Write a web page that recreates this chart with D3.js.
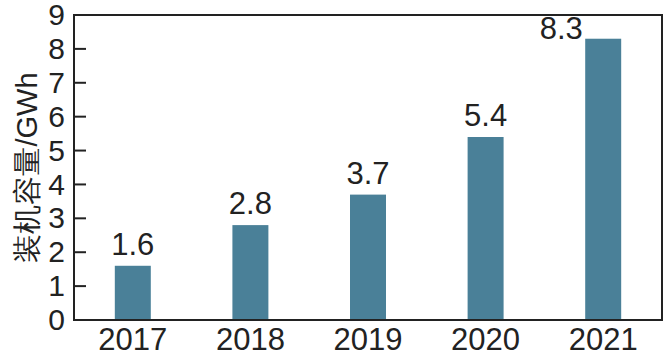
<!DOCTYPE html>
<html lang="zh">
<head>
  <meta charset="utf-8">
  <title>装机容量</title>
  <script src="https://cdn.jsdelivr.net/npm/d3@7"></script>
  <style>
    body { margin: 0; background: #fff; }
    text { font-family: "Liberation Sans", Arial, sans-serif; fill: #222; }
  </style>
</head>
<body>
<script>
  // data
  var years = ["2017", "2018", "2019", "2020", "2021"];
  var capacity = [1.6, 2.8, 3.7, 5.4, 8.3];
  var yTicks = [0, 1, 2, 3, 4, 5, 6, 7, 8, 9];

  var w = 664, h = 364;
  var plotL = 74, plotR = 662, plotT = 15, plotB = 320;

  var svg = d3.select("body").append("svg")
    .attr("width", w)
    .attr("height", h);

  var xScale = d3.scaleBand()
    .domain(years)
    .range([plotL, plotR])
    .paddingInner(0.694)
    .paddingOuter(0.347);

  var yScale = d3.scaleLinear()
    .domain([0, 9])
    .range([plotB, plotT]);

  // bars
  svg.append("g")
    .selectAll("rect")
    .data(capacity)
    .enter()
    .append("rect")
    .attr("x", function (d, i) { return xScale(years[i]); })
    .attr("y", function (d) { return yScale(d); })
    .attr("width", xScale.bandwidth())
    .attr("height", function (d) { return plotB - yScale(d); })
    .attr("fill", "#4a8098");

  // value labels (last one pushed left, it would hit the frame)
  svg.append("g")
    .selectAll("text")
    .data(capacity)
    .enter()
    .append("text")
    .attr("text-anchor", "middle")
    .attr("x", function (d, i) {
      return xScale(years[i]) + xScale.bandwidth() / 2 + (i == capacity.length - 1 ? -42 : 0);
    })
    .attr("y", function (d, i) {
      return i == capacity.length - 1 ? yScale(d) : yScale(d) - 11;
    })
    .attr("font-size", "31px")
    .text(function (d) { return d.toFixed(1); });

  // y axis (ticks inside)
  var yAxis = d3.axisLeft(yScale)
    .tickValues(yTicks)
    .tickSize(0)
    .tickPadding(9);

  var gy = svg.append("g")
    .attr("transform", "translate(" + plotL + ",0)")
    .call(yAxis);
  gy.select(".domain").remove();
  gy.selectAll("text")
    .attr("font-size", "30px")
    .attr("font-family", "Liberation Sans, Arial, sans-serif")
    .attr("fill", "#222");

  svg.append("g")
    .selectAll("line")
    .data(yTicks.slice(1, -1))
    .enter()
    .append("line")
    .attr("x1", plotL)
    .attr("x2", plotL + 12)
    .attr("y1", function (d) { return yScale(d); })
    .attr("y2", function (d) { return yScale(d); })
    .attr("stroke", "#222")
    .attr("stroke-width", 2);

  // x axis labels
  var xAxis = d3.axisBottom(xScale).tickSize(0).tickPadding(8);
  var gx = svg.append("g")
    .attr("transform", "translate(0," + plotB + ")")
    .call(xAxis);
  gx.select(".domain").remove();
  gx.selectAll("text")
    .attr("font-size", "31px")
    .attr("font-family", "Liberation Sans, Arial, sans-serif")
    .attr("fill", "#222");

  // frame
  svg.append("rect")
    .attr("x", plotL)
    .attr("y", plotT)
    .attr("width", plotR - plotL)
    .attr("height", plotB - plotT)
    .attr("fill", "none")
    .attr("stroke", "#222")
    .attr("stroke-width", 2);

  // y title
  svg.append("text")
    .attr("transform", "translate(37," + ((plotT + plotB) / 2) + ") rotate(-90)")
    .attr("text-anchor", "middle")
    .attr("font-size", "29px")
    .attr("font-family", "Noto Sans CJK SC, Liberation Sans, sans-serif")
    .text("装机容量/GWh");
</script>
</body>
</html>
